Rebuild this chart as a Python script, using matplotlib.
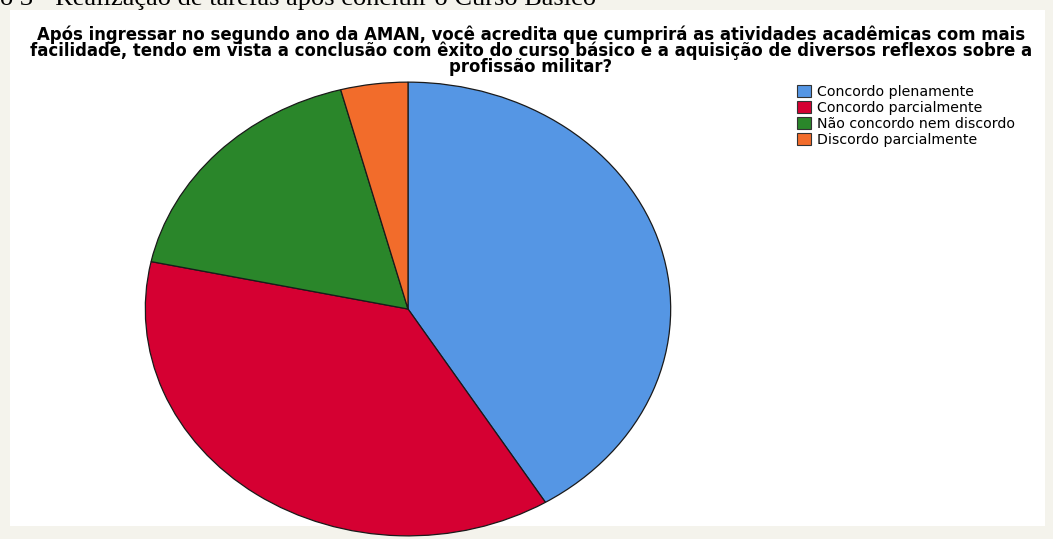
import matplotlib.pyplot as plt
from matplotlib.patches import Rectangle

plt.rcParams['font.family'] = ['DejaVu Sans']

# dados
categorias = ['Concordo plenamente', 'Concordo parcialmente',
              'Não concordo nem discordo', 'Discordo parcialmente']
respostas = [40, 36, 17, 4]
cores = ['#5596E4', '#D50032', '#2A862A', '#F26C2B']

titulo = ('Após ingressar no segundo ano da AMAN, você acredita que cumprirá as atividades acadêmicas com mais\n'
          'facilidade, tendo em vista a conclusão com êxito do curso básico e a aquisição de diversos reflexos sobre a\n'
          'profissão militar?')
cabecalho = 'o 3 - Realização de tarefas após concluir o Curso Básico'

W, H = 1053, 539
fig = plt.figure(figsize=(W / 100, H / 100), dpi=100)
fig.patch.set_facecolor('#F4F3EC')

# fundo branco do grafico
bg = fig.add_axes([0, 0, 1, 1], zorder=-1)
bg.set_xlim(0, W)
bg.set_ylim(H, 0)
bg.axis('off')
bg.add_patch(Rectangle((10, 10), 1035, H - 10 - 13, facecolor='white', edgecolor='none'))

# cabecalho cortado do documento
fig.text(0, 1 - 4.5 / H, cabecalho, family='Liberation Serif', fontsize=19,
         ha='left', va='baseline')

fig.text(531 / W, 1 - 25 / H, titulo, fontsize=11.9, fontweight='bold',
         ha='center', va='top', linespacing=0.86)

# pizza eliptica
ax = fig.add_axes([144 / W, 2 / H, 528 / W, 456 / H], zorder=1)
wedges, _ = ax.pie(respostas, colors=cores, startangle=90, counterclock=False,
                   wedgeprops={'edgecolor': '#1a1a1a', 'linewidth': 0.9})
ax.set_aspect('auto')
ax.set_xlim(-1.005, 1.005)
ax.set_ylim(-1.005, 1.005)
ax.axis('off')

leg = fig.legend(wedges, categorias, loc='upper left',
                 bbox_to_anchor=(797 / W, 1 - 85 / H), frameon=False,
                 fontsize=10.2, handlelength=1.0, handleheight=0.95,
                 handletextpad=0.4, labelspacing=0.14, borderaxespad=0,
                 borderpad=0)
for h in leg.legend_handles:
    h.set_edgecolor('#333333')
    h.set_linewidth(0.8)

fig.savefig('out.png', dpi=100)
